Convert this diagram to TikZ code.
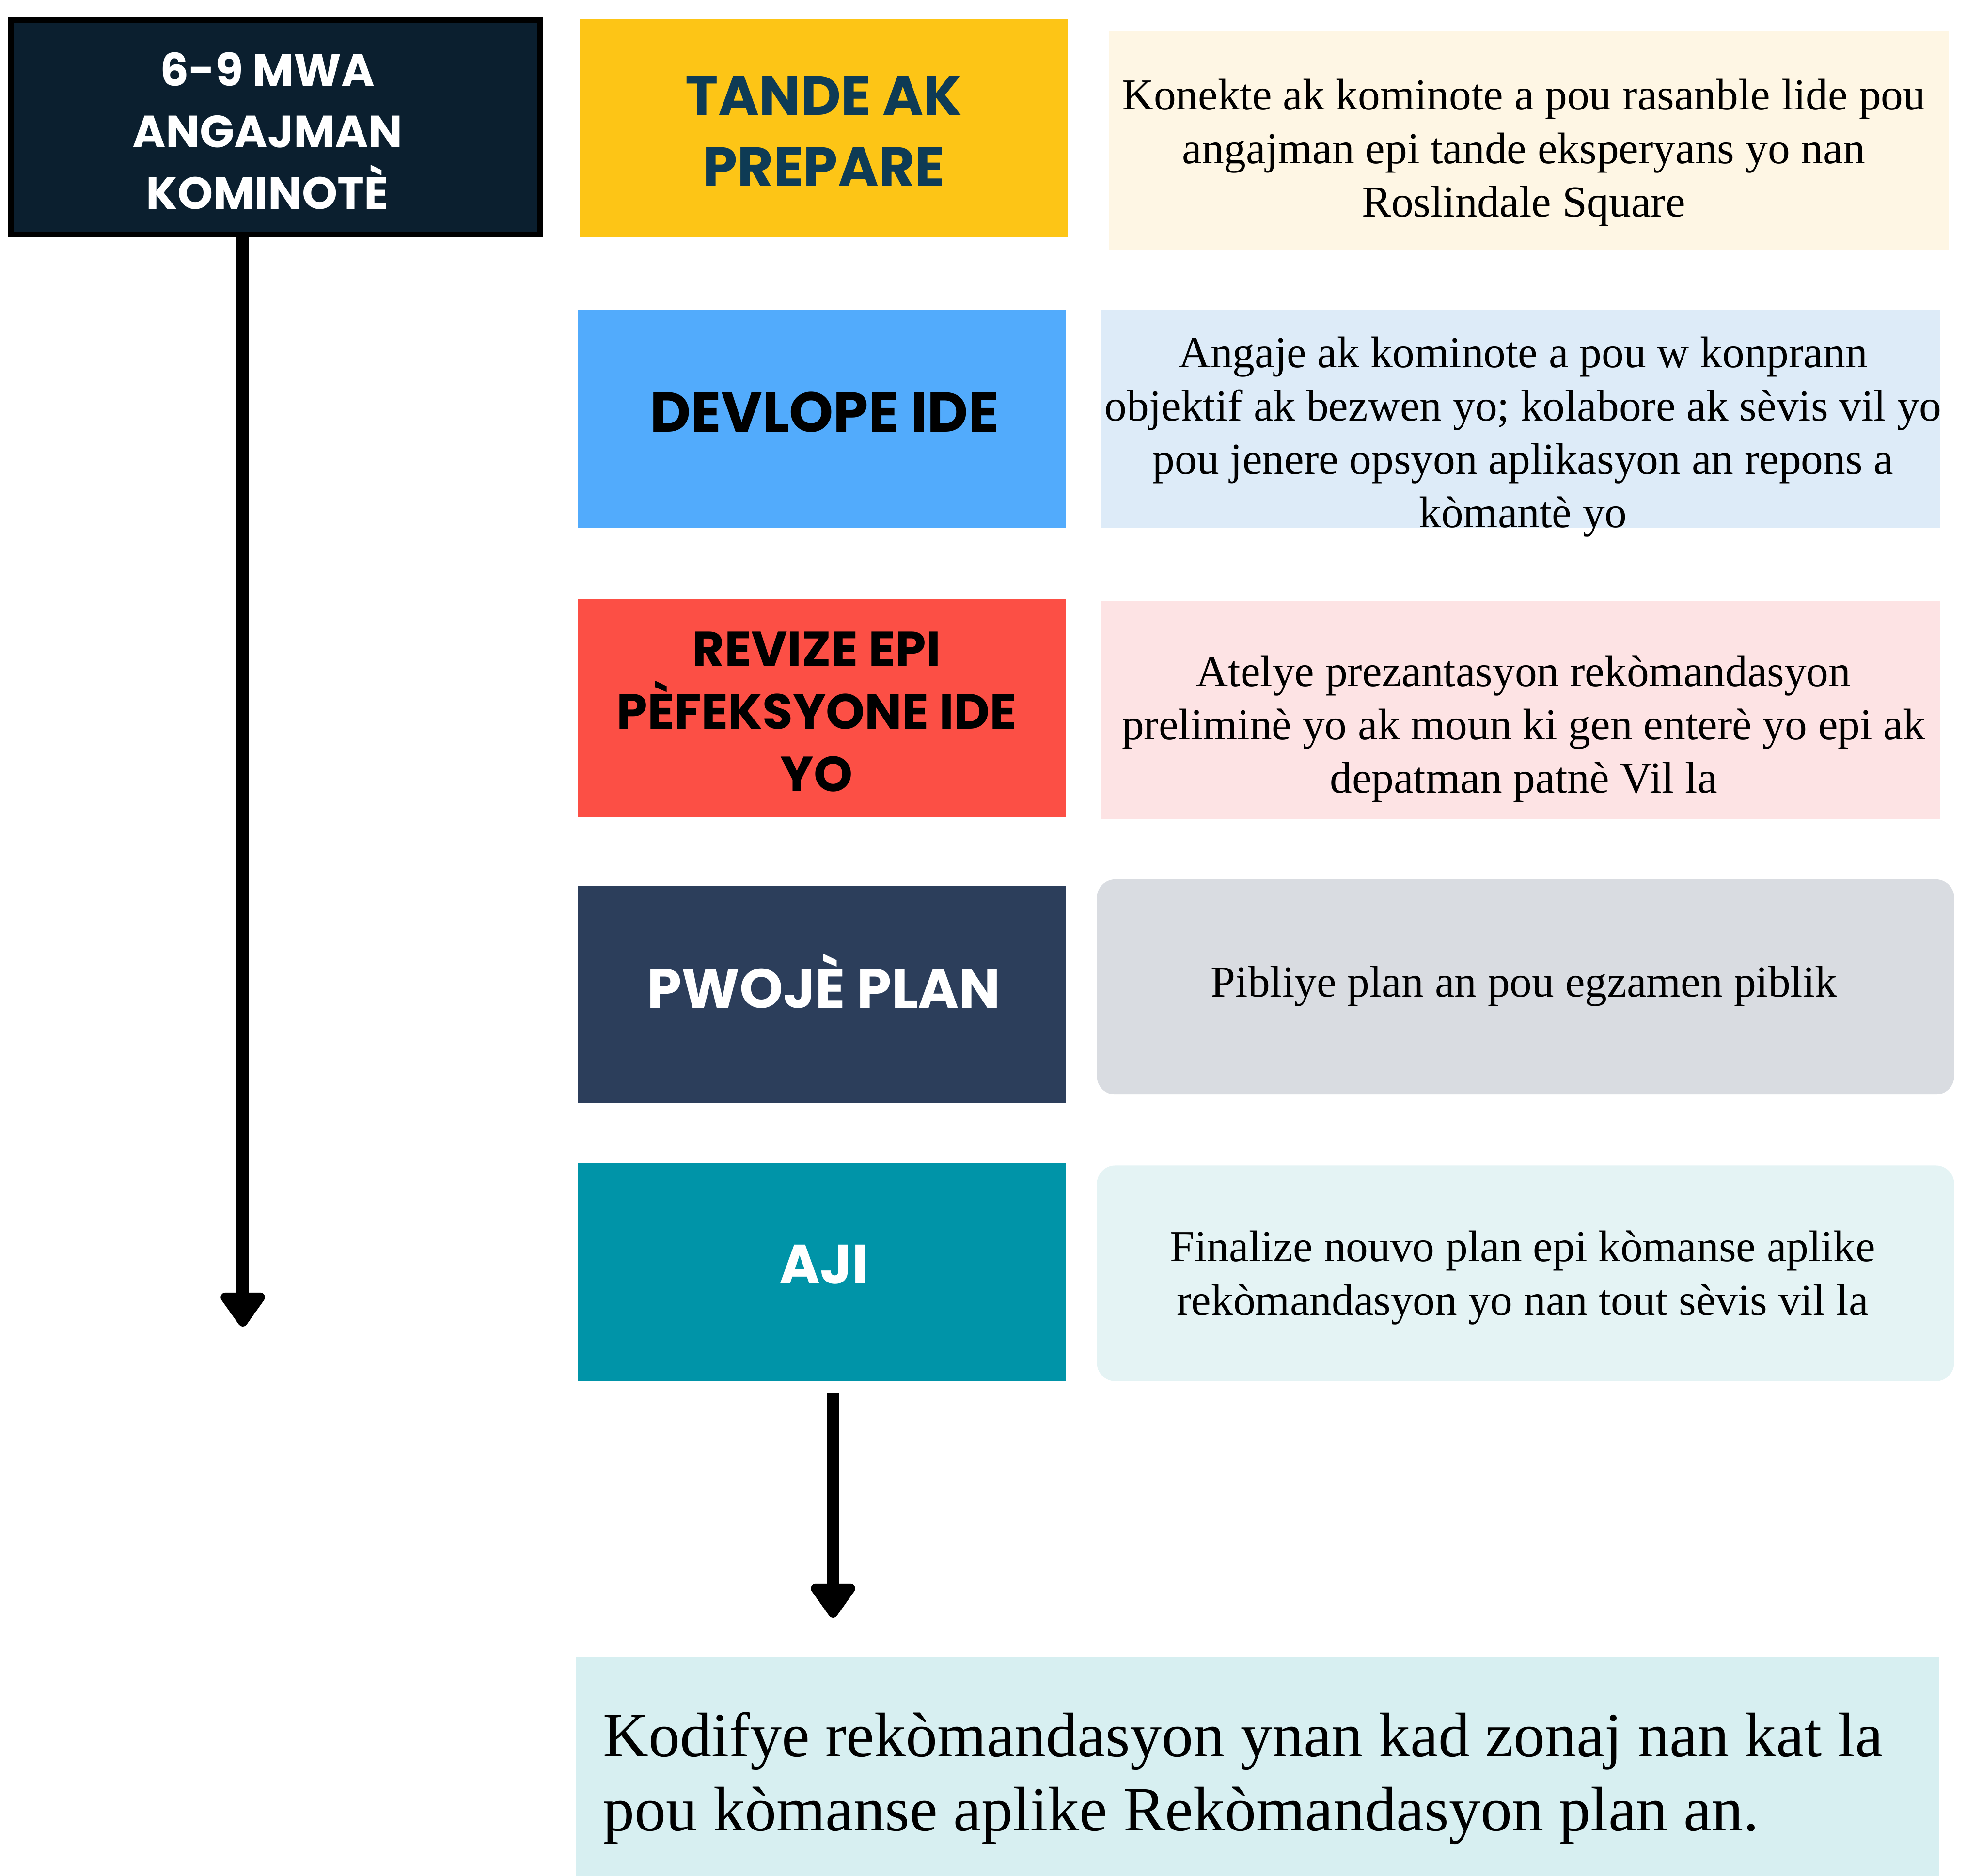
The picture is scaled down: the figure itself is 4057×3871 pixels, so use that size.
\documentclass[tikz,border=0pt]{standalone}
\usepackage{fontspec}
\setmainfont{Liberation Serif}
\newfontfamily\headfont{Poppins}
\usetikzlibrary{arrows.meta,positioning}

\begin{document}
\begin{tikzpicture}[x=0.01cm,y=-0.01cm,
  stage/.style={minimum width=10.06cm,minimum height=4.5cm,inner sep=0pt},
  stagetext/.style={font=\headfont\bfseries\fontsize{32.5}{41.8}\selectfont,align=center,inner sep=0pt},
  note/.style={minimum width=17.31cm,minimum height=4.5cm,inner sep=0pt},
  notetext/.style={font=\fontsize{26}{31.3}\selectfont,align=center,inner sep=0pt},
  flow/.style={line width=0.26cm,-{Triangle[width=1.04cm,length=0.78cm,round]}}]
\definecolor{titlebg}{HTML}{0B1F2F} \definecolor{tandebg}{HTML}{FDC516}
\definecolor{tandefg}{HTML}{0E3B55} \definecolor{devbg}{HTML}{52ABFC}
\definecolor{revbg}{HTML}{FC4F45} \definecolor{pwojebg}{HTML}{2C3E5B}
\definecolor{ajibg}{HTML}{0094A8} \definecolor{codebg}{HTML}{D7EFF1}
\definecolor{tandenote}{HTML}{FEF6E4} \definecolor{devnote}{HTML}{DDEBF8}
\definecolor{revnote}{HTML}{FDE3E4} \definecolor{pwojenote}{HTML}{D9DCE1}
\definecolor{ajinote}{HTML}{E4F3F4}
\useasboundingbox (0,0) rectangle (4057,3871);
% timeline
\node [draw=black,line width=0.12cm,fill=titlebg,minimum width=10.92cm,minimum height=4.42cm,inner sep=0pt] (title) at (569,263) {};
\node [stagetext,text=white,font=\headfont\bfseries\fontsize{26.5}{36.1}\selectfont] (titletext) at (552,270) {6-9 MWA\\ANGAJMAN\\KOMINOTÈ};
\coordinate (timeend) at (501,2738);
\draw [flow] (title.south -| timeend) -- (timeend);
% stages
\node [stage,fill=tandebg] (tande) at (1700,264) {};
\node [stage,fill=devbg] (devlope) at (1696,864) {};
\node [stage,fill=revbg] (revize) at (1696,1462) {};
\node [stage,fill=pwojebg,minimum height=4.48cm] (pwoje) at (1696,2053) {};
\node [stage,fill=ajibg] (aji) at (1696,2626) {};
\node [stagetext,text=tandefg] (tandetext) at (1700,271) {TANDE AK\\PREPARE};
\node [stagetext,font=\headfont\bfseries\fontsize{33}{41.8}\selectfont] (devlopetext) at (1701,851) {DEVLOPE IDE};
\node [stagetext,font=\headfont\bfseries\fontsize{29}{36.6}\selectfont] (revizetext) at (1685,1469) {REVIZE EPI\\PÈFEKSYONE IDE\\YO};
\node [stagetext,text=white,text height=22.6pt,text depth=0pt] (pwojetext) at (1700,2041) {PWOJÈ PLAN};
\node [stagetext,text=white,text height=22.6pt,text depth=0pt] (ajitext) at (1700,2610) {AJI};
% notes
\node [note,fill=tandenote,minimum height=4.52cm] (tandenote) at (3155,291) {};
\node [note,fill=devnote] (devnote) at (3138,865) {};
\node [note,fill=revnote,minimum height=4.49cm] (revnote) at (3138,1465) {};
\node [note,fill=pwojenote,rounded corners=0.38cm,minimum width=17.68cm,minimum height=4.44cm] (pwojenote) at (3148,2037) {};
\node [note,fill=ajinote,rounded corners=0.38cm,minimum width=17.68cm,minimum height=4.45cm] (ajinote) at (3148,2628) {};
\node [notetext] (tandenotetext) at (3144,315) {Konekte ak kominote a pou rasanble lide pou\\angajman epi tande eksperyans yo nan\\Roslindale Square};
\node [notetext] (devnotetext) at (3143,902) {Angaje ak kominote a pou w konprann\\objektif ak bezwen yo; kolabore ak sèvis vil yo\\pou jenere opsyon aplikasyon an repons a\\kòmantè yo};
\node [notetext] (revnotetext) at (3144,1504) {Atelye prezantasyon rekòmandasyon\\preliminè yo ak moun ki gen enterè yo epi ak\\depatman patnè Vil la};
\node [notetext] (pwojenotetext) at (3145,2036) {Pibliye plan an pou egzamen piblik};
\node [notetext] (ajinotetext) at (3142,2637) {Finalize nouvo plan epi kòmanse aplike\\rekòmandasyon yo nan tout sèvis vil la};
% outcome
\node [fill=codebg,minimum width=28.13cm,minimum height=4.51cm,inner sep=0pt] (code) at (2595,3645) {};
\node [anchor=west,align=left,inner sep=0pt,font=\fontsize{37}{43.5}\selectfont] (codetext) at (1244,3670) {Kodifye rekòmandasyon ynan kad zonaj nan kat la\\pou kòmanse aplike Rekòmandasyon plan an.};
\coordinate (codetip) at (1719,3339);
\draw [flow] ([yshift=-0.24cm]aji.south -| codetip) -- (codetip);
\end{tikzpicture}
\end{document}
